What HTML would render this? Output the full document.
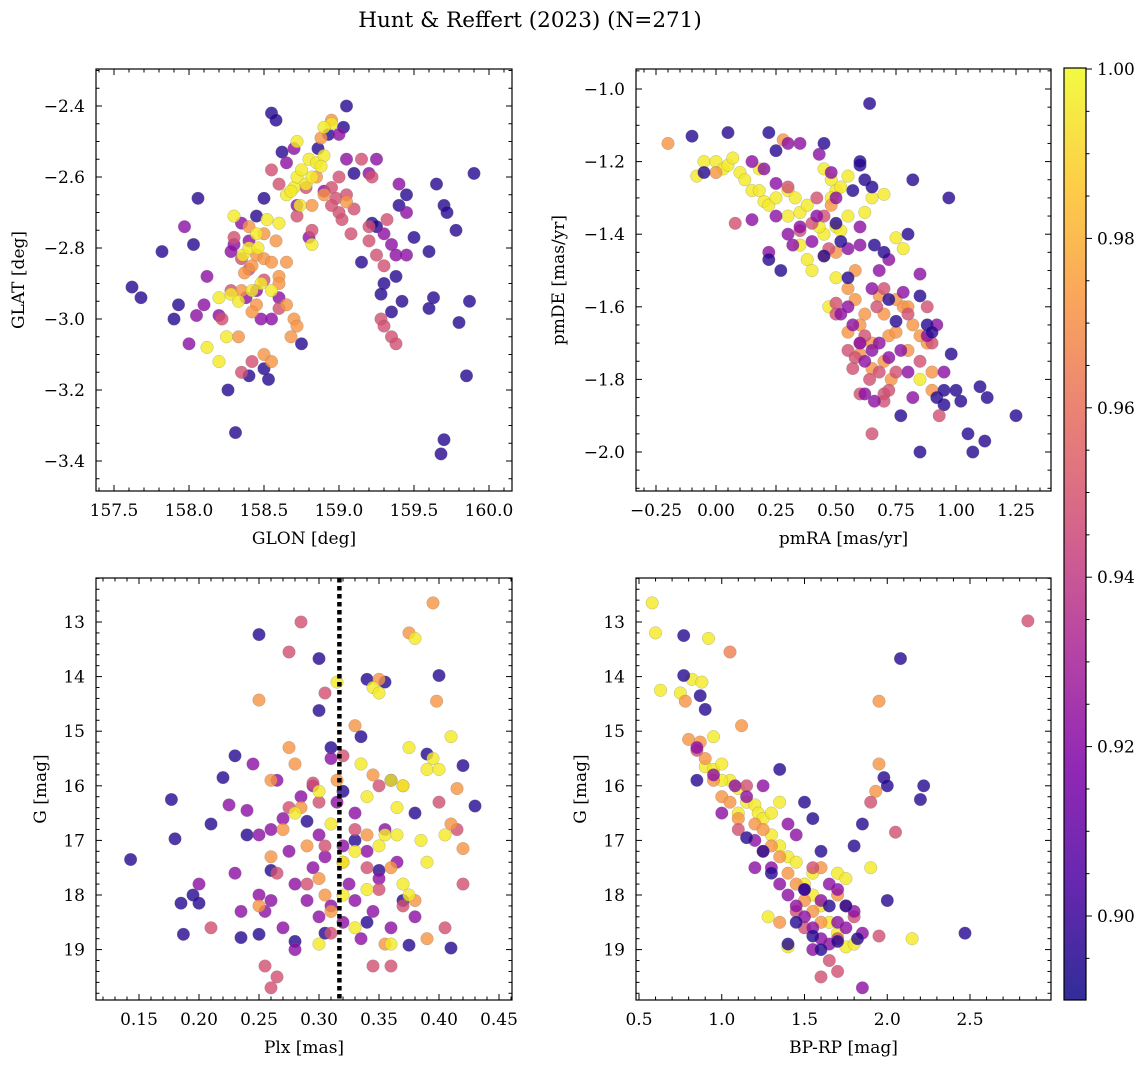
<!DOCTYPE html>
<html><head><meta charset="utf-8">
<style>
body{margin:0;background:#fff;}
svg text{font-family:"DejaVu Serif","Liberation Serif",serif;fill:#000;}
</style></head>
<body>
<svg id="fig" width="1148" height="1068" viewBox="0 0 1148 1068" xmlns="http://www.w3.org/2000/svg">
<defs>
<linearGradient id="plasma" x1="0" y1="1" x2="0" y2="0">
<stop offset="0" stop-color="#0d0887"/><stop offset="0.125" stop-color="#4c02a1"/><stop offset="0.25" stop-color="#7e03a8"/><stop offset="0.375" stop-color="#a92395"/><stop offset="0.5" stop-color="#cc4778"/><stop offset="0.625" stop-color="#e56b5d"/><stop offset="0.75" stop-color="#f89540"/><stop offset="0.875" stop-color="#fdc527"/><stop offset="1" stop-color="#f0f921"/>
</linearGradient>
</defs>
<text x="530" y="27" font-size="21.5" text-anchor="middle">Hunt &amp; Reffert (2023) (N=271)</text>
</svg>
<script>
// ---------- data ----------
const glon=[157.62,157.68,157.82,157.93,157.9,158.03,158.06,158.31,158.26,158.4,158.5,158.53,158.55,158.58,158.62,158.5,158.45,158.75,158.86,158.93,159.05,159.03,159.1,159.15,159.3,159.38,159.4,159.45,159.5,159.6,159.65,159.7,159.72,159.78,159.9,159.87,159.8,159.85,159.7,159.68,159.63,159.6,159.35,159.28,159.42,159.22,159.25,
158.0,158.05,158.1,158.12,158.2,158.3,158.35,158.4,158.38,158.45,158.6,158.65,158.7,158.72,158.8,158.9,159.0,159.05,159.2,159.25,159.4,159.45,159.35,159.3,159.45,159.38,158.28,157.97,158.48,158.55,
158.42,158.35,158.55,158.72,158.82,158.95,159.0,159.05,159.1,159.15,159.2,159.22,159.25,159.3,159.32,159.35,159.38,159.28,159.3,159.2,158.98,159.0,159.02,158.95,158.3,158.35,158.4,158.5,158.28,158.6,158.78,158.6,159.08,158.22,
158.37,158.35,158.42,158.45,158.5,158.55,158.6,158.6,158.65,158.7,158.72,158.68,158.5,158.55,158.45,158.5,158.58,158.65,158.85,158.9,158.88,158.95,159.05,158.82,158.4,158.33,158.42,
158.12,158.2,158.28,158.33,158.25,158.36,158.4,158.46,158.3,158.45,158.48,158.6,158.65,158.7,158.72,158.75,158.8,158.78,158.82,158.85,158.9,158.95,158.9,158.68,158.74,158.82,158.72,158.88,158.52,158.55,158.42,158.2];
const glat=[-2.91,-2.94,-2.81,-2.96,-3.0,-2.79,-2.66,-3.32,-3.2,-3.16,-3.14,-3.17,-2.42,-2.44,-2.53,-2.66,-2.71,-3.07,-2.52,-2.48,-2.40,-2.46,-2.59,-2.84,-2.90,-2.88,-2.68,-2.65,-2.77,-2.81,-2.62,-2.68,-2.70,-2.75,-2.59,-2.95,-3.01,-3.16,-3.34,-3.38,-2.94,-2.97,-2.98,-2.93,-2.95,-2.73,-2.74,
-3.07,-2.99,-2.96,-2.88,-2.99,-2.79,-2.73,-2.78,-2.94,-2.92,-2.94,-2.56,-2.52,-2.68,-2.77,-2.64,-2.48,-2.55,-2.59,-2.55,-2.62,-2.7,-2.79,-2.76,-2.82,-2.82,-2.81,-2.74,-3.0,-3.0,
-3.12,-3.15,-2.58,-2.71,-2.75,-2.63,-2.6,-2.65,-2.69,-2.55,-2.74,-2.6,-2.82,-2.85,-2.72,-3.05,-3.07,-3.0,-3.02,-2.78,-2.66,-2.7,-2.72,-2.68,-2.77,-2.83,-2.86,-2.89,-2.92,-2.97,-2.63,-2.62,-2.76,-3.0,
-2.87,-2.92,-2.85,-2.82,-2.83,-2.84,-2.88,-2.9,-2.96,-3.0,-3.02,-3.05,-3.1,-3.12,-2.96,-2.76,-2.78,-2.84,-2.6,-2.65,-2.49,-2.44,-2.67,-2.68,-2.74,-3.05,-2.98,
-3.08,-3.12,-2.93,-2.95,-3.05,-2.82,-2.8,-2.8,-2.71,-2.76,-2.9,-2.73,-2.65,-2.63,-2.6,-2.58,-2.55,-2.62,-2.6,-2.56,-2.54,-2.45,-2.46,-2.64,-2.68,-2.79,-2.5,-2.57,-2.72,-2.92,-2.92,-2.94];
const probA=[].concat(Array(47).fill(0.895),Array(30).fill(0.922),Array(34).fill(0.948),Array(27).fill(0.972),Array(32).fill(0.996));

const pmra=[0.95,-0.08,-0.05,0.0,0.03,0.05,0.07,0.1,0.12,0.15,0.18,0.2,0.22,0.25,0.3,0.33,0.35,0.38,0.45,0.48,0.5,0.52,0.55,0.48,0.5,0.55,0.52,0.45,0.43,0.38,0.35,0.4,0.47,0.65,0.62,0.7,0.75,0.78,0.85,0.5,0.3,0.18,
-0.2,0.0,0.28,0.48,0.5,0.55,0.58,0.6,0.65,0.7,0.72,0.75,0.78,0.8,0.82,0.85,0.88,0.8,0.7,0.65,0.9,0.9,0.62,0.68,0.75,0.73,0.6,0.55,0.45,0.58,
0.08,0.3,0.42,0.47,0.5,0.55,0.6,0.65,0.7,0.72,0.68,0.6,0.58,0.62,0.67,0.7,0.75,0.8,0.85,0.9,0.45,0.5,0.4,0.35,0.7,0.64,0.88,0.93,0.57,
0.15,0.2,0.25,0.25,0.3,0.32,0.35,0.4,0.42,0.5,0.52,0.55,0.57,0.6,0.62,0.65,0.68,0.72,0.77,0.8,0.82,0.88,0.92,0.65,0.68,0.72,0.78,0.85,0.55,0.6,0.62,0.35,0.3,0.43,0.48,0.15,0.22,0.6,0.66,0.95,
-0.1,-0.05,0.05,0.22,0.25,0.27,0.22,0.45,0.5,0.52,0.55,0.57,0.6,0.62,0.64,0.65,0.66,0.7,0.72,0.75,0.77,0.8,0.82,0.85,0.88,0.9,0.92,0.95,0.97,0.98,1.0,1.02,1.05,1.07,1.1,1.12,1.13,1.25,0.45,0.6,0.85];
const pmde=[-1.87,-1.24,-1.2,-1.2,-1.22,-1.21,-1.19,-1.23,-1.25,-1.28,-1.22,-1.31,-1.32,-1.3,-1.28,-1.3,-1.34,-1.32,-1.22,-1.25,-1.28,-1.27,-1.24,-1.3,-1.38,-1.35,-1.39,-1.4,-1.38,-1.47,-1.43,-1.5,-1.6,-1.3,-1.34,-1.29,-1.41,-1.44,-1.8,-1.52,-1.35,-1.28,
-1.15,-1.23,-1.14,-1.32,-1.45,-1.55,-1.58,-1.65,-1.7,-1.62,-1.68,-1.67,-1.6,-1.6,-1.65,-1.68,-1.7,-1.72,-1.75,-1.77,-1.78,-1.83,-1.62,-1.57,-1.58,-1.8,-1.73,-1.67,-1.46,-1.5,
-1.37,-1.27,-1.3,-1.44,-1.59,-1.72,-1.84,-1.95,-1.84,-1.83,-1.78,-1.7,-1.74,-1.68,-1.6,-1.55,-1.78,-1.62,-1.75,-1.7,-1.35,-1.62,-1.37,-1.39,-1.86,-1.8,-1.6,-1.9,-1.77,
-1.2,-1.22,-1.26,-1.35,-1.4,-1.43,-1.38,-1.42,-1.35,-1.3,-1.62,-1.6,-1.65,-1.7,-1.75,-1.72,-1.7,-1.74,-1.72,-1.78,-1.85,-1.68,-1.65,-1.55,-1.5,-1.47,-1.56,-1.51,-1.44,-1.43,-1.84,-1.15,-1.15,-1.18,-1.23,-1.36,-1.45,-1.38,-1.86,-1.78,
-1.13,-1.23,-1.12,-1.12,-1.17,-1.5,-1.47,-1.15,-1.37,-1.42,-1.52,-1.28,-1.21,-1.25,-1.04,-1.27,-1.43,-1.45,-1.58,-1.64,-1.9,-1.4,-1.25,-2.0,-1.65,-1.67,-1.85,-1.83,-1.3,-1.73,-1.83,-1.86,-1.95,-2.0,-1.82,-1.97,-1.85,-1.9,-1.46,-1.2,-1.57];
const probB=[].concat([0.895],Array(41).fill(0.996),Array(30).fill(0.972),Array(29).fill(0.948),Array(40).fill(0.922),Array(41).fill(0.895));

const plx=[0.143,0.177,0.18,0.185,0.187,0.195,0.2,0.21,0.22,0.23,0.235,0.25,0.25,0.28,0.29,0.3,0.3,0.31,0.335,0.34,0.34,0.36,0.37,0.375,0.38,0.39,0.4,0.41,0.43,0.42,0.33,0.26,0.24,0.305,0.35,0.32,0.355,
0.2,0.225,0.23,0.235,0.24,0.245,0.25,0.255,0.26,0.265,0.27,0.275,0.28,0.285,0.29,0.295,0.3,0.305,0.31,0.315,0.32,0.325,0.33,0.335,0.34,0.345,0.35,0.355,0.36,0.365,0.28,0.26,0.295,0.31,0.32,0.38,0.25,0.27,0.3,0.33,
0.21,0.255,0.26,0.265,0.275,0.285,0.295,0.305,0.31,0.32,0.33,0.34,0.35,0.36,0.37,0.4,0.405,0.415,0.42,0.345,0.29,0.3,0.275,0.265,0.35,0.305,
0.25,0.26,0.25,0.27,0.275,0.28,0.285,0.29,0.3,0.305,0.31,0.315,0.32,0.33,0.34,0.345,0.35,0.355,0.36,0.375,0.38,0.39,0.395,0.398,0.415,0.42,0.41,0.37,0.26,
0.28,0.3,0.31,0.315,0.32,0.33,0.335,0.34,0.345,0.35,0.355,0.36,0.365,0.37,0.375,0.38,0.385,0.39,0.395,0.4,0.405,0.41,0.36,0.33,0.34,0.35,0.37,0.39,0.3,0.32,0.365,0.375];
const gmagC=[17.35,16.25,16.97,18.15,18.72,18.0,18.15,16.7,15.85,15.45,18.78,13.23,18.72,18.85,16.65,13.67,14.62,15.3,15.1,14.05,18.5,15.9,18.1,18.92,16.5,15.42,13.98,18.97,16.37,15.63,17.0,17.55,16.9,18.7,17.55,16.1,14.1,
17.8,16.35,17.6,18.3,16.45,15.6,18.0,18.3,16.8,15.9,16.6,17.2,17.8,16.2,18.1,17.5,16.9,17.3,18.2,16.3,18.5,17.8,16.5,18.8,17.2,18.3,17.7,16.8,18.6,17.4,19.0,18.1,16.0,15.5,17.1,18.4,16.9,18.6,18.4,18.1,
18.6,19.3,19.7,19.5,13.55,13.0,15.95,17.1,18.7,15.45,16.8,17.5,17.9,19.3,18.2,16.3,18.6,16.8,17.8,19.3,17.8,16.3,16.4,17.6,16.0,14.3,
14.43,17.3,18.2,16.8,15.3,15.6,16.4,17.1,17.7,18.0,18.3,15.9,17.4,14.9,16.9,15.8,14.05,18.9,17.5,13.2,18.1,18.8,12.65,14.45,16.05,17.15,16.7,16.0,15.9,
16.5,16.1,16.7,14.1,18.0,17.2,15.6,16.2,14.2,14.3,16.9,15.9,16.4,16.0,18.0,13.3,17.0,15.7,15.5,15.7,16.9,15.1,18.9,18.6,17.9,17.1,17.8,17.4,18.9,17.4,16.9,15.3];
const probC=[].concat(Array(37).fill(0.895),Array(40).fill(0.922),Array(26).fill(0.948),Array(29).fill(0.972),Array(32).fill(0.996));

const bprp=[0.58,0.6,0.63,0.75,0.82,0.88,0.92,0.95,0.9,0.95,1.0,1.05,1.1,1.15,1.2,1.22,1.25,1.3,1.3,1.35,1.4,1.45,1.5,1.55,1.6,1.65,1.7,1.75,1.8,1.7,1.75,1.9,2.15,1.28,1.4,1.55,1.35,1.1,1.0,
0.78,0.8,0.87,0.9,0.95,1.0,1.05,1.1,1.12,1.2,1.25,1.3,1.35,1.4,1.45,1.5,1.55,1.6,1.35,1.7,1.95,1.95,1.93,1.6,
0.85,1.05,1.1,1.15,1.25,1.45,1.6,1.65,1.7,1.5,1.55,1.9,2.05,1.95,2.85,1.7,1.75,1.8,
0.85,0.95,1.08,1.15,1.2,1.3,1.35,1.4,1.45,1.5,1.55,1.6,1.65,1.7,1.75,1.8,1.85,1.6,1.5,1.45,1.25,1.0,1.85,1.7,1.55,1.4,1.2,1.65,
0.77,0.77,0.87,0.9,0.85,1.15,1.25,1.3,1.35,1.5,1.5,1.55,1.6,1.65,1.75,1.8,1.85,1.98,2.0,2.08,2.2,2.22,2.0,2.47,1.45,1.55,1.7,1.82,1.6,1.4];
const gmagD=[12.65,13.2,14.25,14.3,14.05,14.1,13.3,15.1,15.65,15.7,15.6,15.9,16.05,16.3,16.35,16.5,16.6,16.5,16.9,17.1,17.3,17.4,17.8,18.0,18.2,18.5,18.7,18.95,18.9,17.6,17.7,17.5,18.8,18.4,18.95,17.6,16.3,16.5,15.9,
14.45,15.15,15.2,15.5,15.9,16.2,16.3,16.6,14.9,16.7,16.8,17.1,17.3,17.6,17.8,18.1,18.3,18.5,18.5,18.0,14.45,15.6,16.1,17.5,
15.35,13.55,16.8,16.0,17.2,18.3,19.5,19.2,18.8,18.6,17.5,16.3,16.85,18.75,12.98,19.4,18.2,18.4,
15.3,15.8,16.0,16.2,17.0,17.5,17.8,18.0,18.2,18.4,18.6,18.8,18.9,18.5,18.6,18.3,18.7,18.1,17.9,16.9,16.0,16.5,19.7,17.9,19.0,16.7,17.5,17.8,
13.25,13.98,14.35,14.6,15.9,16.95,17.2,17.6,15.7,16.3,17.9,16.6,17.2,18.2,18.2,17.1,16.7,15.85,16.0,13.67,16.25,16.0,18.1,18.7,18.5,18.75,18.85,18.8,19.0,18.9];
const probD=[].concat(Array(39).fill(0.996),Array(24).fill(0.972),[0.948,0.965].concat(Array(16).fill(0.948)),Array(28).fill(0.922),Array(30).fill(0.895));

const cbTicks=[0.90,0.92,0.94,0.96,0.98,1.00];
const plxCut=0.317;

// ---------- helpers ----------
const NS='http://www.w3.org/2000/svg';
const svg=document.getElementById('fig');
function mk(tag,attrs,parent){const e=document.createElementNS(NS,tag);for(const k in attrs)e.setAttribute(k,attrs[k]);(parent||svg).appendChild(e);return e;}
const stops=[[0,[13,8,135]],[0.125,[76,2,161]],[0.25,[126,3,168]],[0.375,[169,35,149]],[0.5,[204,71,120]],[0.625,[229,107,93]],[0.75,[248,149,64]],[0.875,[253,197,39]],[1,[240,249,33]]];
const VMIN=0.89,VMAX=1.0;
function cmap(v){let t=Math.max(0,Math.min(1,(v-VMIN)/(VMAX-VMIN)));for(let i=1;i<stops.length;i++){if(t<=stops[i][0]){const a=stops[i-1],b=stops[i];const f=(t-a[0])/(b[0]-a[0]);return 'rgb('+a[1].map((c,j)=>Math.round(c+(b[1][j]-c)*f)).join(',')+')';}}return 'rgb(240,249,33)';}
function fmt(v,d){const s=Math.abs(v).toFixed(d);return (v<-1e-9?'\u2212':'')+s;}
const FS=17;

function panel(cfg){
  const {name,L,R,T,B,xs,ys,xlab,ylab}=cfg;
  const X=v=>xs.p0+(v-xs.v0)*xs.k;
  const Y=v=>ys.p0+(v-ys.v0)*ys.k;
  const g=mk('g',{});
  
  
  const clipId='clip-'+name;
  const cp=mk('clipPath',{id:clipId},g);mk('rect',{x:L,y:T,width:R-L,height:B-T},cp);
  const pts=mk('g',{'clip-path':'url(#'+clipId+')'},g);
  
  
  for(let i=0;i<cfg.xd.length;i++){
    const c=mk('circle',{cx:X(cfg.xd[i]).toFixed(1),cy:Y(cfg.yd[i]).toFixed(1),r:6.3,fill:cmap(cfg.cd[i]),'fill-opacity':0.8,stroke:'#777','stroke-width':0.4,'stroke-opacity':0.6},pts);
    
    
  }
  if(cfg.extra)cfg.extra(g,X,Y);
  function ticks(sc,axis,step,minor,dec){
    const lo=axis==='x'?Math.min(sc.inv(L),sc.inv(R)):Math.min(sc.inv(T),sc.inv(B));
    const hi=axis==='x'?Math.max(sc.inv(L),sc.inv(R)):Math.max(sc.inv(T),sc.inv(B));
    const ms=step/minor;
    for(let n=Math.ceil(lo/ms-1e-6);n*ms<=hi+1e-9;n++){
      const v=n*ms;const major=Math.abs(n%minor)<1e-6;const len=major?6:3.5;
      const p=axis==='x'?X(v):Y(v);
      if(axis==='x'){mk('line',{x1:p,x2:p,y1:B,y2:B-len,stroke:'#000','stroke-width':1},g);mk('line',{x1:p,x2:p,y1:T,y2:T+len,stroke:'#000','stroke-width':1},g);}
      else{mk('line',{y1:p,y2:p,x1:L,x2:L+len,stroke:'#000','stroke-width':1},g);mk('line',{y1:p,y2:p,x1:R,x2:R-len,stroke:'#000','stroke-width':1},g);}
      if(major){
        const t=axis==='x'?mk('text',{x:p,y:B+25,'font-size':FS,'text-anchor':'middle'},g):mk('text',{x:L-11,y:p+6,'font-size':FS,'text-anchor':'end'},g);
        t.textContent=fmt(v,dec);
        
        
      }
    }
  }
  xs.inv=p=>xs.v0+(p-xs.p0)/xs.k; ys.inv=p=>ys.v0+(p-ys.p0)/ys.k;
  ticks(xs,'x',cfg.xstep,cfg.xminor,cfg.xdec);
  ticks(ys,'y',cfg.ystep,cfg.yminor,cfg.ydec);
  const fr=mk('rect',{x:L,y:T,width:R-L,height:B-T,fill:'none',stroke:'#000','stroke-width':1.2},g);
  
  
  const xt=mk('text',{x:(L+R)/2,y:B+53,'font-size':FS,'text-anchor':'middle'},g);xt.textContent=xlab;
  
  
  const yx=cfg.ytx;const yt=mk('text',{x:yx,y:(T+B)/2,'font-size':FS,'text-anchor':'middle',transform:'rotate(-90 '+yx+' '+(T+B)/2+')'},g);yt.textContent=ylab;
  
  
}

panel({name:'glon-glat-panel',L:96,R:512,T:69,B:491,xs:{v0:157.5,p0:114,k:150},ys:{v0:-2.4,p0:106,k:-355},xd:glon,yd:glat,cd:probA,xstep:0.5,xminor:5,xdec:1,ystep:0.2,yminor:4,ydec:1,xlab:'GLON [deg]',ylab:'GLAT [deg]',ytx:24});
panel({name:'pm-panel',L:636,R:1051,T:69,B:491,xs:{v0:0,p0:716,k:240},ys:{v0:-1.0,p0:89,k:-363},xd:pmra,yd:pmde,cd:probB,xstep:0.25,xminor:5,xdec:2,ystep:0.2,yminor:4,ydec:1,xlab:'pmRA [mas/yr]',ylab:'pmDE [mas/yr]',ytx:564});
panel({name:'plx-g-panel',L:96,R:512,T:578,B:1000,xs:{v0:0.15,p0:139,k:1200},ys:{v0:13,p0:622,k:54.6},xd:plx,yd:gmagC,cd:probC,xstep:0.05,xminor:5,xdec:2,ystep:1,yminor:5,ydec:0,xlab:'Plx [mas]',ylab:'G [mag]',ytx:46,
  extra:(g,X,Y)=>{const l=mk('line',{x1:X(plxCut),x2:X(plxCut),y1:578,y2:1000,stroke:'#000','stroke-width':4.5,'stroke-dasharray':'4.5 3.5'},g);}});
panel({name:'cmd-panel',L:636,R:1051,T:578,B:1000,xs:{v0:0.5,p0:639,k:165.5},ys:{v0:13,p0:622,k:54.6},xd:bprp,yd:gmagD,cd:probD,xstep:0.5,xminor:5,xdec:1,ystep:1,yminor:5,ydec:0,xlab:'BP-RP [mag]',ylab:'G [mag]',ytx:586});

// colorbar
const cb=mk('g',{});


const cbT=68,cbB=1000,cbL=1064,cbR=1086;
const CY=v=>69+(1.0-v)*8470;
mk('rect',{x:cbL,y:cbT,width:cbR-cbL,height:cbB-cbT,fill:'url(#plasma)','fill-opacity':0.85},cb);
for(let n=179;n<=200;n++){const v=n*0.005;const p=CY(v);if(p<cbT||p>cbB)continue;const major=n%4===0;
  mk('line',{x1:cbR,x2:cbR+(major?6:3.5),y1:p,y2:p,stroke:'#000','stroke-width':1},cb);}
cbTicks.forEach(v=>{const t=mk('text',{x:cbR+11,y:CY(v)+6,'font-size':FS},cb);t.textContent=v.toFixed(2);
  
  });
mk('rect',{x:cbL,y:cbT,width:cbR-cbL,height:cbB-cbT,fill:'none',stroke:'#000','stroke-width':1.2},cb);
</script>
</body></html>
